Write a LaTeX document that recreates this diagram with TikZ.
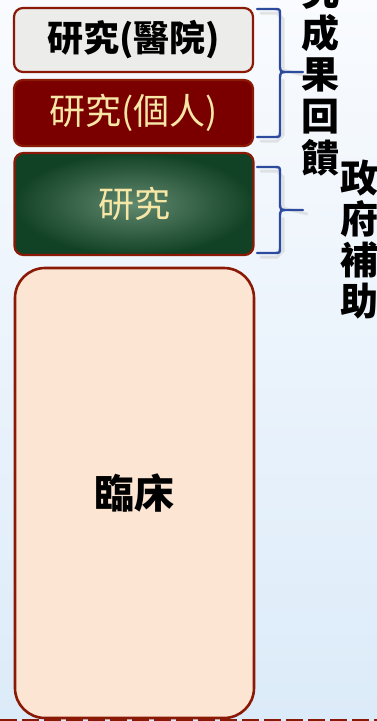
\documentclass[tikz,border=0pt]{standalone}
\usepackage{fontspec}
\newfontfamily\cjk{Noto Sans CJK TC}
\usepackage{xcolor}
\usetikzlibrary{positioning,calc}
\definecolor{rim}{HTML}{8A1A06}
\definecolor{wine}{HTML}{7A0000}
\definecolor{moss}{HTML}{1E5631}
\definecolor{mossdeep}{HTML}{124225}
\definecolor{cream}{HTML}{F6E7A6}
\definecolor{peach}{HTML}{FDE5D3}
\definecolor{stone}{HTML}{ECECEA}
\definecolor{brace}{HTML}{2C4A9E}
\definecolor{skytop}{HTML}{F9FBFE}
\definecolor{skylow}{HTML}{DCEBF9}
\tikzset{
  tier/.style={draw=rim, line width=2.2pt, rounded corners=9pt, inner sep=0pt,
    minimum width=239pt, font=\cjk\fontsize{36}{40}\selectfont},
  bracket/.style={draw=brace, line width=2.4pt, line cap=round, line join=round},
  vchar/.style={font=\cjk\bfseries\fontsize{38}{40}\selectfont, inner sep=0pt}
}
\begin{document}
\begin{tikzpicture}[x=1pt,y=-1pt]
\clip (0,0) rectangle (377,721);
\useasboundingbox (0,0) rectangle (377,721);
% sky background
\shade[top color=skytop, bottom color=skylow] (0,0) rectangle (377,721);
% stacked tiers
\node[tier, fill=stone, minimum height=64pt, font=\cjk\bfseries\fontsize{36}{40}\selectfont] (hosp) at (133.5,40) {研究(醫院)};
\node[tier, fill=wine, text=cream, minimum height=66pt] (self) at (133.5,113) {研究(個人)};
\node[tier, inner color=moss!70!white, outer color=mossdeep, text=cream, minimum height=102pt] (gov) at (134,204) {研究};
\node[tier, fill=peach, line width=2.6pt, rounded corners=30pt, minimum height=450pt,
  font=\cjk\bfseries\fontsize{40}{44}\selectfont] (clin) at (134.5,493) {臨床};
% bottom rule
\draw[rim, line width=3pt, dash pattern=on 17pt off 5pt] (0,720) -- (377,720);
% braces
\foreach \top/\tip/\bot in {9/72/137, 167/210/253}{
  \draw[gray!40, line width=3pt, opacity=0.5, line cap=round]
    (261,\top+4) -- (277,\top+4) -- (283,\top+10) -- (283,\tip-2) -- (307,\tip+4)
    (283,\tip+8) -- (283,\bot-2) -- (277,\bot+4) -- (261,\bot+4);
  \draw[bracket] (257,\top) -- (274,\top) .. controls (280,\top) .. (280,\top+6)
    -- (280,\tip-8) .. controls (280,\tip) .. (288,\tip) -- (303,\tip)
    (288,\tip) .. controls (280,\tip) .. (280,\tip+8)
    -- (280,\bot-6) .. controls (280,\bot) .. (274,\bot) -- (257,\bot);
}
% vertical labels
\foreach \c [count=\i] in {研,究,成,果,回,饋}
  \node[vchar] (fb\i) at (320,{33+41.7*(\i-3)}) {\c};
\foreach \c [count=\i] in {政,府,補,助}
  \node[vchar] (gs\i) at (359,{178+41*(\i-1)}) {\c};
\end{tikzpicture}
\end{document}
